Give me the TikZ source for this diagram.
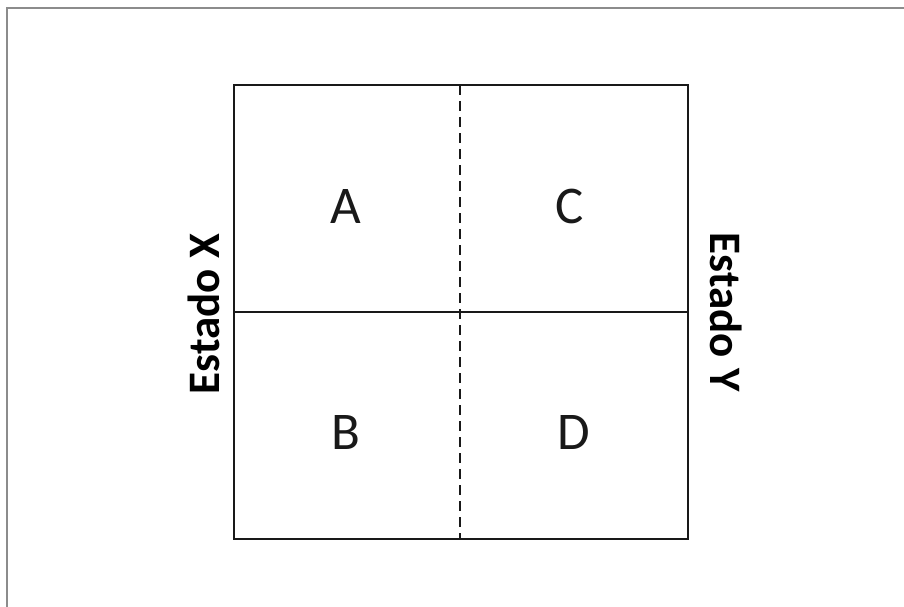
\documentclass[tikz,border=0pt]{standalone}
\usepackage{fontspec}
\setmainfont{Carlito}
\begin{document}
\begin{tikzpicture}[x=1pt,y=-1pt,
  frameline/.style={draw=black!45, line width=2pt},
  boxline/.style={draw=black!90, line width=1.4pt},
  dashline/.style={draw=black!90, line width=1.9pt, dash pattern=on 10pt off 6pt},
  cell/.style={font=\fontsize{53}{60}\selectfont, text=black!90, inner sep=0pt},
  side/.style={font=\fontsize{45}{50}\selectfont\bfseries, text=black, inner sep=0pt}]
\useasboundingbox (0,0) rectangle (904,607);
\fill[white] (0,0) rectangle (904,607);
\coordinate (ftl) at (7,8.5);
\coordinate (ftr) at (904,8.5);
\coordinate (fbl) at (7,607);
\draw[frameline] (ftr) -- (ftl) -- (fbl);
\coordinate (tl) at (234,85);
\coordinate (br) at (688,539);
\coordinate (ml) at (234,312);
\coordinate (mr) at (688,312);
\coordinate (mt) at (460,85);
\coordinate (mb) at (460,539);
\draw[boxline] (tl) rectangle (br);
\draw[boxline] (ml) -- (mr);
\draw[dashline] (mt) -- (mb);
\node[cell] (A) at (346,206) {A};
\node[cell] (C) at (570,206) {C};
\node[cell] (B) at (346,432) {B};
\node[cell] (D) at (574,432) {D};
\node[side, rotate=90] (X) at (204,314) {Estado X};
\node[side, rotate=-90] (Y) at (726,312) {Estado Y};
\end{tikzpicture}
\end{document}
